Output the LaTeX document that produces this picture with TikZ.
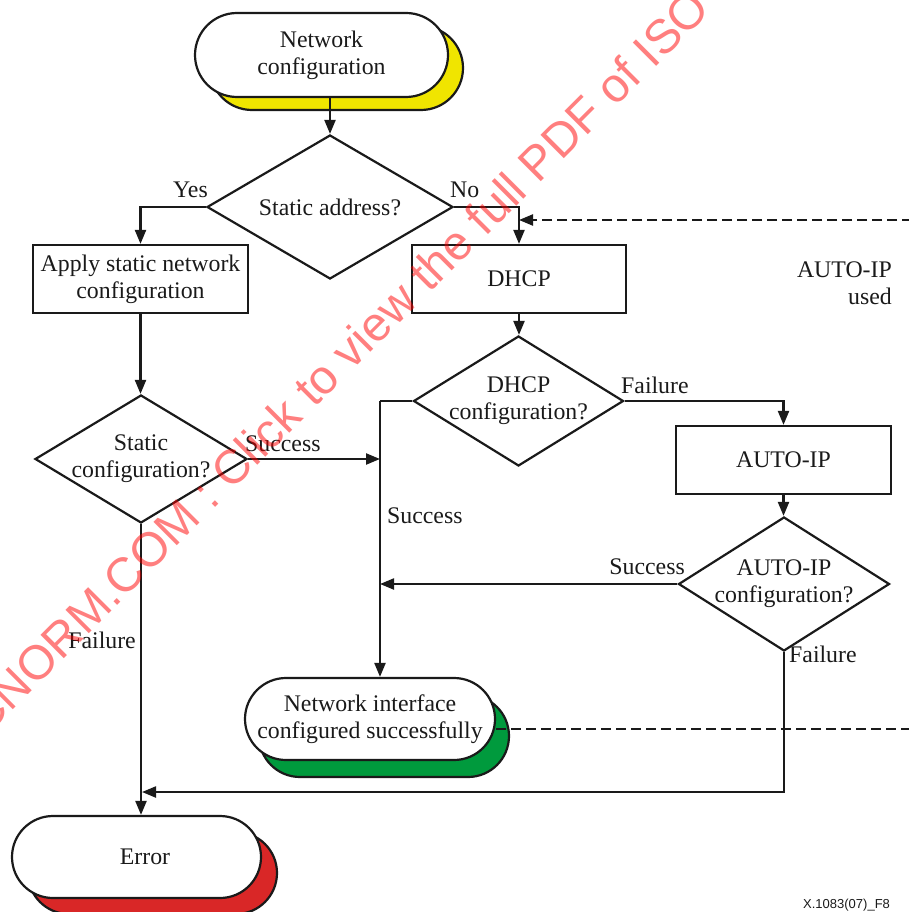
\documentclass[tikz,border=0pt]{standalone}
\usepackage{fontspec}
\setmainfont{Liberation Serif}
\newfontfamily\wmfont{Liberation Sans}
\usetikzlibrary{arrows.meta,shapes.geometric,shapes.misc}
\definecolor{ink}{HTML}{1A1A1A}
\definecolor{startyellow}{HTML}{F0E500}
\definecolor{okgreen}{HTML}{009A3D}
\definecolor{errred}{HTML}{D92727}
\begin{document}
\begin{tikzpicture}[x=1pt,y=-1pt,
  every node/.style={font=\fontsize{23.8}{27}\selectfont, text=ink},
  flow/.style={draw=ink, line width=2.2pt},
  arr/.style={flow, -{Triangle[length=14pt,width=11pt]}},
  loopline/.style={draw=ink, line width=2.2pt, dash pattern=on 10pt off 5pt},
  term/.style={rounded rectangle, draw=ink, line width=2.2pt, fill=white, inner sep=0pt, align=center},
  stepbox/.style={rectangle, draw=ink, line width=2.2pt, fill=white, minimum width=215pt, minimum height=68pt, align=center, inner sep=0pt},
  decision/.style={diamond, draw=ink, line width=2.2pt, fill=white, inner sep=0pt},
  lbl/.style={inner sep=0pt},
]
\useasboundingbox (0,0) rectangle (909,912);
\clip (0,0) rectangle (909,912);

% terminators: coloured shadow first, white face on top
\node[term, fill=startyellow, minimum width=253pt, minimum height=84pt] (startsh) at (336.5,68) {};
\node[term, minimum width=253pt, minimum height=84pt] (start) at (321.5,55) {Network\\configuration};

\node[term, fill=okgreen, minimum width=250pt, minimum height=82pt] (nifsh) at (384,736) {};
\node[term, minimum width=250pt, minimum height=82pt] (nif) at (370,719) {Network interface\\configured successfully};

\node[term, fill=errred, minimum width=249pt, minimum height=82pt] (errsh) at (152.5,873) {};
\node[term, minimum width=249pt, minimum height=82pt] (err) at (136.5,857) {};
\node (errtext) at (145,857) {Error};

% process boxes
\node[stepbox] (apply) at (140.5,279) {Apply static network\\configuration};
\node[stepbox, minimum width=214pt] (dhcp) at (519,279) {DHCP};
\node[stepbox] (auto) at (783.5,460) {AUTO-IP};

% decisions
\node[decision, minimum width=246pt, minimum height=144pt] (d1) at (330,207) {};
\node[align=center] at (d1) {Static address?};
\node[decision, minimum width=212pt, minimum height=128pt] (d2) at (141,459) {};
\node[align=center] at (d2) {Static\\configuration?};
\node[decision, minimum width=210pt, minimum height=130pt] (d3) at (518.5,401) {};
\node[align=center] at (d3) {DHCP\\configuration?};
\node[decision, minimum width=211pt, minimum height=134pt] (d4) at (784,584) {};
\node[align=center] at (d4) {AUTO-IP\\configuration?};

% helper points for the shared lines
\coordinate (vx) at (380,401);
\coordinate (lowy) at (0,792);
\coordinate (dashin) at (912,220);
\coordinate (dashout) at (912,729);

% connectors
\draw[arr] (d1.north |- start.south) -- (d1.north);
\draw[arr] (d1.west) -| (apply.north);
\draw[arr] (d1.east) -| (dhcp.north);
\draw[arr, loopline] (dashin) -- (dashin -| dhcp.north);
\draw[arr] (apply.south) -- (apply.south |- d2.north);
\draw[arr] (d2.east) -- (d2.east -| vx);
\draw[flow] (d3.west) -- (vx);
\draw[arr] (vx) -- (vx |- nif.north);
\draw[arr] (dhcp.south) -- (dhcp.south |- d3.north);
\draw[arr] (d3.east) -| (auto.north);
\draw[arr] (auto.south) -- (auto.south |- d4.north);
\draw[arr] (d4.west) -- (d4.west -| vx);
\draw[arr, shorten >=1pt] (d4.south) -- (d4.south |- lowy) -- (d2.south |- lowy);
\draw[arr] (d2.south) -- (d2.south |- err.north);
\draw[loopline] (nif.east |- dashout) -- (dashout);

% branch labels
\node[lbl, anchor=base east] (yes) at (208,197) {Yes};
\node[lbl, anchor=base west] (no) at (450,197) {No};
\node[lbl, anchor=base west] (s1) at (245,451) {Success};
\node[lbl, anchor=base west] (s2) at (387,523) {Success};
\node[lbl, anchor=base west] (f1) at (621,393) {Failure};
\node[lbl, anchor=base east] (s3) at (685,574) {Success};
\node[lbl, anchor=base west] (f2) at (789,662) {Failure};
\node[lbl, anchor=base east] (f3) at (136,648) {Failure};
\node[lbl, anchor=north east, align=right] (used) at (892,262) {AUTO-IP\\used};

% figure number
\node[lbl, font=\wmfont\fontsize{13}{15}\selectfont, anchor=base west] (fig) at (803,908) {X.1083(07)\_F8};

% watermark
\node[lbl, font=\wmfont\fontsize{48}{52}\selectfont, text=red, text opacity=0.5, rotate=45, anchor=base west] (wm) at (-14,737) {CNORM.COM : Click to view the full PDF of ISO};
\end{tikzpicture}
\end{document}
